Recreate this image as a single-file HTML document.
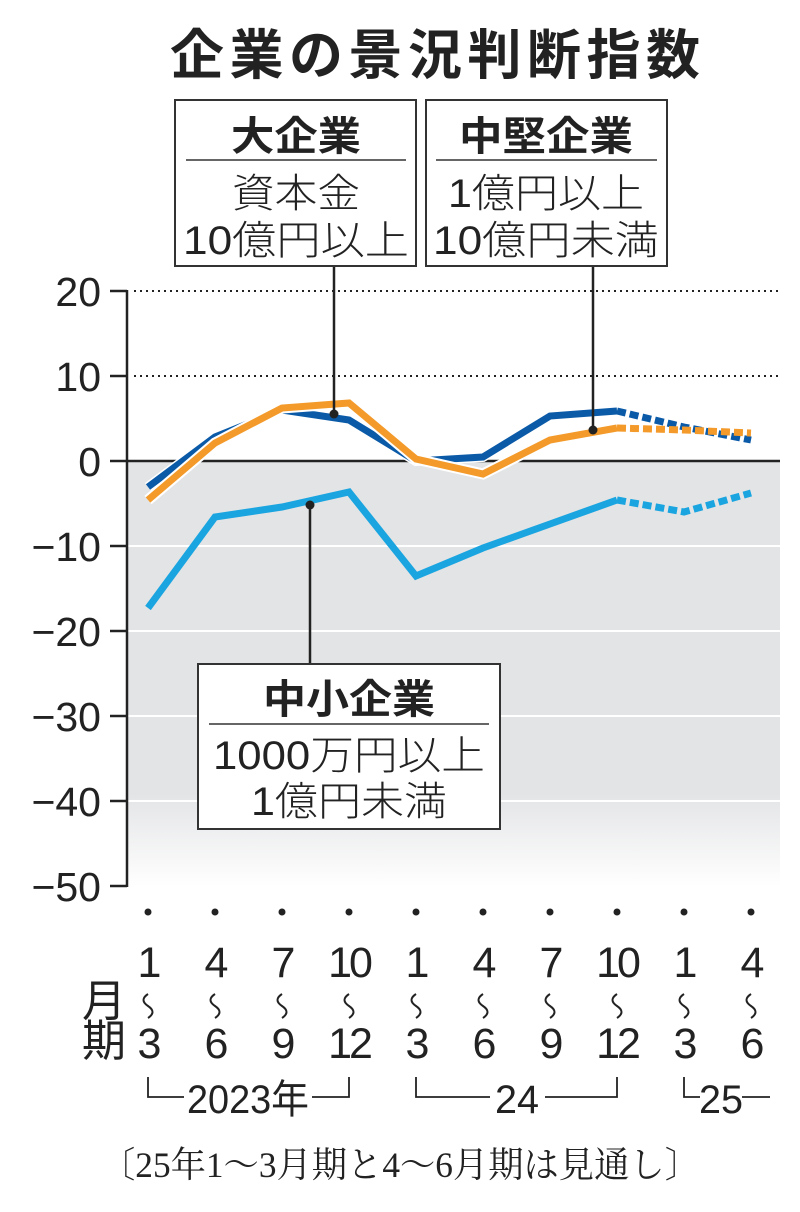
<!DOCTYPE html>
<html><head><meta charset="utf-8"><style>
body{margin:0;background:#fff}
svg text{font-family:"Liberation Sans","Noto Sans CJK JP",sans-serif;fill:#222}
</style></head><body>
<svg width="800" height="1207" viewBox="0 0 800 1207" xmlns="http://www.w3.org/2000/svg">
<defs>
<linearGradient id="g" x1="0" y1="0" x2="0" y2="1">
<stop offset="0" stop-color="#e3e4e6"/><stop offset="0.78" stop-color="#e3e4e6"/><stop offset="1" stop-color="#ffffff"/>
</linearGradient>
</defs>
<text x="170" y="74" font-size="54" font-weight="bold" textLength="530" lengthAdjust="spacing">企業の景況判断指数</text>
<rect x="127" y="461" width="653" height="426" fill="url(#g)"/>
<g stroke="#fff" stroke-width="2">
<line x1="127" y1="546" x2="780" y2="546"/><line x1="127" y1="631" x2="780" y2="631"/>
<line x1="127" y1="716" x2="780" y2="716"/><line x1="127" y1="801" x2="780" y2="801"/>
</g>
<g stroke="#222" stroke-width="2" stroke-dasharray="2,4">
<line x1="134" y1="291" x2="780" y2="291"/><line x1="134" y1="376" x2="780" y2="376"/>
</g>
<line x1="127" y1="461" x2="780" y2="461" stroke="#222" stroke-width="2.5"/>
<line x1="127" y1="290" x2="127" y2="887" stroke="#222" stroke-width="2.5"/>
<g stroke="#222" stroke-width="2.5">
<line x1="110" y1="291" x2="127" y2="291"/><line x1="110" y1="376" x2="127" y2="376"/>
<line x1="110" y1="461" x2="127" y2="461"/><line x1="110" y1="546" x2="127" y2="546"/>
<line x1="110" y1="631" x2="127" y2="631"/><line x1="110" y1="716" x2="127" y2="716"/>
<line x1="110" y1="801" x2="127" y2="801"/><line x1="110" y1="886" x2="127" y2="886"/>
</g>
<g font-size="41" text-anchor="end">
<text x="101" y="306">20</text><text x="101" y="391">10</text><text x="101" y="476">0</text>
<text x="101" y="561">−10</text><text x="101" y="646">−20</text><text x="101" y="731">−30</text>
<text x="101" y="816">−40</text><text x="101" y="901">−50</text>
</g>
<g fill="none" stroke-width="7" stroke-linejoin="miter">
<polyline points="148,487 215,437 282,410 349,420 416,461 483,457 550,416 617,411" stroke="#fff" stroke-width="10"/>
<polyline points="148,487 215,437 282,410 349,420 416,461 483,457 550,416 617,411" stroke="#0a5aa8"/>
<polyline points="617,411 684,427 751,440" stroke="#0a5aa8" stroke-dasharray="9,4"/>
<polyline points="148,500 215,443 282,408 349,403 416,459 483,474 550,440 617,428" stroke="#fff" stroke-width="11"/>
<polyline points="148,500 215,443 282,408 349,403 416,459 483,474 550,440 617,428" stroke="#f39a2a"/>
<polyline points="617,428 684,430 751,433" stroke="#f39a2a" stroke-dasharray="9,4"/>
<polyline points="148,608 215,517 282,507 349,492 416,576 483,548 550,524 617,500" stroke="#1aa5e0"/>
<polyline points="617,500 684,512 751,493" stroke="#1aa5e0" stroke-dasharray="9,4"/>
</g>
<g stroke="#222" stroke-width="2.5">
<line x1="334" y1="266" x2="334" y2="414"/><line x1="593" y1="266" x2="593" y2="430"/>
<line x1="310" y1="505" x2="310" y2="664"/>
</g>
<circle cx="334" cy="414" r="4.5" fill="#222"/><circle cx="593" cy="430" r="4.5" fill="#222"/><circle cx="310" cy="505" r="4.5" fill="#222"/>
<g fill="#fff" stroke="#333" stroke-width="2">
<rect x="175" y="100" width="241" height="166"/><rect x="426" y="100" width="241" height="166"/>
<rect x="198" y="664" width="302" height="165"/>
</g>
<g stroke="#333" stroke-width="1.5">
<line x1="186" y1="160" x2="406" y2="160"/><line x1="436" y1="160" x2="657" y2="160"/>
<line x1="209" y1="724" x2="489" y2="724"/>
</g>
<g font-size="40" text-anchor="middle" font-weight="bold">
<text x="296" y="150" textLength="130" lengthAdjust="spacingAndGlyphs">大企業</text>
<text x="546" y="150" textLength="174" lengthAdjust="spacingAndGlyphs">中堅企業</text>
<text x="349" y="713" textLength="172" lengthAdjust="spacingAndGlyphs">中小企業</text>
</g>
<g font-size="40" text-anchor="middle" font-weight="300">
<text x="296" y="207" textLength="128" lengthAdjust="spacingAndGlyphs">資本金</text>
<text x="296" y="254" textLength="226" lengthAdjust="spacingAndGlyphs">10億円以上</text>
<text x="546" y="207" textLength="196" lengthAdjust="spacingAndGlyphs">1億円以上</text>
<text x="546" y="254" textLength="226" lengthAdjust="spacingAndGlyphs">10億円未満</text>
<text x="349" y="769" textLength="272" lengthAdjust="spacingAndGlyphs">1000万円以上</text>
<text x="349" y="815" textLength="196" lengthAdjust="spacingAndGlyphs">1億円未満</text>
</g>
<g fill="#222">
<circle cx="148" cy="912" r="3.5"/><circle cx="215" cy="912" r="3.5"/><circle cx="282" cy="912" r="3.5"/><circle cx="349" cy="912" r="3.5"/><circle cx="416" cy="912" r="3.5"/><circle cx="483" cy="912" r="3.5"/><circle cx="550" cy="912" r="3.5"/><circle cx="617" cy="912" r="3.5"/><circle cx="684" cy="912" r="3.5"/><circle cx="751" cy="912" r="3.5"/>
</g>
<g font-size="43" text-anchor="middle" letter-spacing="-3">
<text x="148" y="977">1</text><text x="215" y="977">4</text><text x="282" y="977">7</text><text x="349" y="977">10</text>
<text x="416" y="977">1</text><text x="483" y="977">4</text><text x="550" y="977">7</text><text x="617" y="977">10</text>
<text x="684" y="977">1</text><text x="751" y="977">4</text>
<text x="148" y="1058">3</text><text x="215" y="1058">6</text><text x="282" y="1058">9</text><text x="349" y="1058">12</text>
<text x="416" y="1058">3</text><text x="483" y="1058">6</text><text x="550" y="1058">9</text><text x="617" y="1058">12</text>
<text x="684" y="1058">3</text><text x="751" y="1058">6</text>
</g>
<g fill="none" stroke="#222" stroke-width="2">
<path id="t" d="M150,994 c-6,4 -6,8 0,12 c6,4 6,8 0,12" transform="translate(-2,0)"/>
<use href="#t" x="67"/><use href="#t" x="134"/><use href="#t" x="201"/><use href="#t" x="268"/><use href="#t" x="335"/><use href="#t" x="402"/><use href="#t" x="469"/><use href="#t" x="536"/><use href="#t" x="603"/>
</g>
<text x="104" y="1016" font-size="44" text-anchor="middle">月</text>
<text x="104" y="1056" font-size="44" text-anchor="middle">期</text>
<g fill="none" stroke="#222" stroke-width="1.8">
<polyline points="148,1077 148,1097 184,1097"/><polyline points="312,1097 349,1097 349,1077"/>
<polyline points="416,1077 416,1097 490,1097"/><polyline points="545,1097 617,1097 617,1077"/>
<polyline points="684,1077 684,1097 700,1097"/><line x1="742" y1="1097" x2="770" y2="1097"/>
</g>
<g font-size="40" text-anchor="middle">
<text x="248" y="1113" textLength="122" lengthAdjust="spacingAndGlyphs">2023年</text>
<text x="517" y="1113" textLength="44" lengthAdjust="spacingAndGlyphs">24</text>
<text x="721" y="1113" textLength="44" lengthAdjust="spacingAndGlyphs">25</text>
</g>
<text x="100" y="1177" font-size="36" textLength="600" lengthAdjust="spacingAndGlyphs" style="font-family:'Liberation Serif','Noto Serif CJK SC',serif">〔25年1〜3月期と4〜6月期は見通し〕</text>
</svg>
</body></html>
